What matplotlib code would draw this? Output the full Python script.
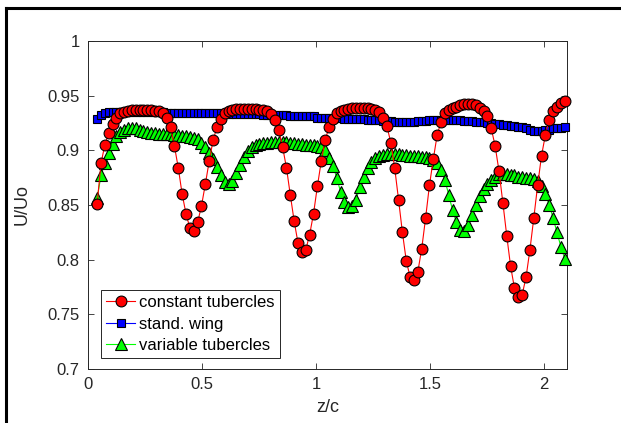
import numpy as np
import matplotlib
matplotlib.use("Agg")
import matplotlib.pyplot as plt
from matplotlib.lines import Line2D

plt.rcParams['font.family'] = ['Liberation Sans', 'DejaVu Sans']

# spanwise stations z/c (regular measurement grid)
z = np.linspace(0.04, 2.09, 122)

u_constant = [
    0.851, 0.888, 0.905, 0.916, 0.924, 0.930, 0.934, 0.935, 0.936, 0.937,
    0.937, 0.937, 0.937, 0.937, 0.937, 0.936, 0.936, 0.934, 0.930, 0.921,
    0.904, 0.884, 0.860, 0.842, 0.829, 0.826, 0.834, 0.849, 0.869, 0.890,
    0.909, 0.921, 0.929, 0.934, 0.936, 0.937, 0.938, 0.938, 0.938, 0.938,
    0.938, 0.938, 0.937, 0.937, 0.936, 0.933, 0.928, 0.919, 0.903, 0.884,
    0.859, 0.835, 0.815, 0.807, 0.809, 0.823, 0.842, 0.867, 0.890, 0.909,
    0.921, 0.929, 0.934, 0.936, 0.937, 0.938, 0.939, 0.939, 0.939, 0.939,
    0.939, 0.938, 0.937, 0.935, 0.930, 0.922, 0.907, 0.884, 0.855, 0.825,
    0.799, 0.784, 0.781, 0.789, 0.810, 0.838, 0.868, 0.892, 0.914, 0.926,
    0.934, 0.937, 0.939, 0.940, 0.941, 0.942, 0.942, 0.942, 0.941, 0.939,
    0.936, 0.931, 0.920, 0.904, 0.881, 0.852, 0.822, 0.794, 0.774, 0.766,
    0.768, 0.784, 0.809, 0.838, 0.868, 0.895, 0.914, 0.928, 0.936, 0.940,
    0.943, 0.945]

u_wing = [
    0.929, 0.932, 0.934, 0.935, 0.935, 0.935, 0.935, 0.935, 0.935, 0.935,
    0.935, 0.935, 0.935, 0.935, 0.935, 0.935, 0.935, 0.935, 0.934, 0.934,
    0.934, 0.934, 0.934, 0.934, 0.934, 0.934, 0.934, 0.934, 0.934, 0.934,
    0.934, 0.934, 0.934, 0.933, 0.933, 0.933, 0.933, 0.933, 0.933, 0.933,
    0.933, 0.933, 0.933, 0.932, 0.932, 0.932, 0.932, 0.932, 0.932, 0.932,
    0.931, 0.931, 0.931, 0.931, 0.931, 0.931, 0.931, 0.930, 0.930, 0.930,
    0.930, 0.930, 0.930, 0.930, 0.929, 0.929, 0.929, 0.929, 0.929, 0.929,
    0.928, 0.928, 0.928, 0.928, 0.927, 0.927, 0.927, 0.926, 0.926, 0.926,
    0.926, 0.926, 0.926, 0.927, 0.927, 0.927, 0.928, 0.928, 0.928, 0.928,
    0.928, 0.928, 0.928, 0.928, 0.928, 0.927, 0.927, 0.927, 0.926, 0.926,
    0.926, 0.925, 0.925, 0.924, 0.924, 0.923, 0.923, 0.922, 0.922, 0.921,
    0.921, 0.920, 0.919, 0.918, 0.918, 0.918, 0.919, 0.919, 0.920, 0.920,
    0.920, 0.921]

u_variable = [
    0.856, 0.877, 0.888, 0.898, 0.906, 0.913, 0.917, 0.919, 0.920, 0.920,
    0.920, 0.919, 0.918, 0.917, 0.916, 0.916, 0.915, 0.915, 0.915, 0.915,
    0.914, 0.914, 0.913, 0.913, 0.912, 0.911, 0.910, 0.907, 0.903, 0.898,
    0.892, 0.885, 0.877, 0.871, 0.869, 0.872, 0.879, 0.887, 0.894, 0.899,
    0.903, 0.905, 0.906, 0.907, 0.907, 0.908, 0.908, 0.908, 0.908, 0.908,
    0.907, 0.907, 0.906, 0.906, 0.905, 0.905, 0.905, 0.904, 0.903, 0.900,
    0.893, 0.886, 0.875, 0.862, 0.853, 0.848, 0.849, 0.855, 0.866, 0.876,
    0.884, 0.889, 0.893, 0.895, 0.896, 0.897, 0.897, 0.897, 0.897, 0.896,
    0.896, 0.895, 0.895, 0.895, 0.894, 0.894, 0.893, 0.891, 0.888, 0.882,
    0.873, 0.859, 0.845, 0.834, 0.827, 0.826, 0.832, 0.841, 0.850, 0.858,
    0.865, 0.869, 0.873, 0.876, 0.878, 0.878, 0.878, 0.877, 0.877, 0.876,
    0.876, 0.875, 0.875, 0.874, 0.872, 0.867, 0.860, 0.850, 0.838, 0.825,
    0.812, 0.801]

xticks = [0, 0.5, 1, 1.5, 2]
xticklabels = ['0', '0.5', '1', '1.5', '2']
yticks = [0.7, 0.75, 0.8, 0.85, 0.9, 0.95, 1]
yticklabels = ['0.7', '0.75', '0.8', '0.85', '0.9', '0.95', '1']

fig = plt.figure(figsize=(6.21, 4.23), dpi=100)
ax = fig.add_axes([0.1417, 0.1277, 0.7713, 0.7754])

h_wing, = ax.plot(z, u_wing, '-s', color='b', mfc='b', mec='k', ms=6, mew=0.8, lw=0.8,
                  label='stand. wing', zorder=3, clip_on=False)
h_var, = ax.plot(z, u_variable, '-^', color=(0, 1, 0), mfc=(0, 1, 0), mec='k', ms=8.5, mew=0.8,
                 lw=0.8, label='variable tubercles', zorder=4, clip_on=False)
h_const, = ax.plot(z, u_constant, '-o', color='r', mfc='r', mec='k', ms=7.8, mew=0.8, lw=0.8,
                   label='constant tubercles', zorder=5, clip_on=False)

ax.set_xlim(0, 2.1)
ax.set_ylim(0.7, 1)
ax.set_xticks(xticks)
ax.set_xticklabels(xticklabels)
ax.set_yticks(yticks)
ax.set_yticklabels(yticklabels)
ax.tick_params(direction='in', top=True, right=True, length=4, width=0.6,
               color='#262626', labelsize=12, labelcolor='#262626', pad=6)
for s in ax.spines.values():
    s.set_color('#262626')
    s.set_linewidth(0.7)

ax.set_xlabel('z/c', fontsize=13, color='#262626', labelpad=5)
ax.set_ylabel('U/Uo', fontsize=13, color='#262626', labelpad=12)

leg = ax.legend(handles=[h_const, h_wing, h_var], loc='lower left',
                bbox_to_anchor=(0.027, 0.0335), borderaxespad=0, fontsize=12,
                handlelength=1.75, handletextpad=0.25, labelspacing=0.38,
                borderpad=0.3, fancybox=False, framealpha=1)
leg.get_frame().set_edgecolor('#262626')
leg.get_frame().set_linewidth(0.7)

# black frame of the original figure window
fig.add_artist(Line2D([5.5 / 621, 1], [1 - 8.5 / 423, 1 - 8.5 / 423], color='k', lw=2.2,
                      transform=fig.transFigure))
fig.add_artist(Line2D([5.5 / 621, 5.5 / 621], [0, 1 - 8.5 / 423], color='k', lw=2.2,
                      transform=fig.transFigure))

fig.savefig('out.png', dpi=100)
